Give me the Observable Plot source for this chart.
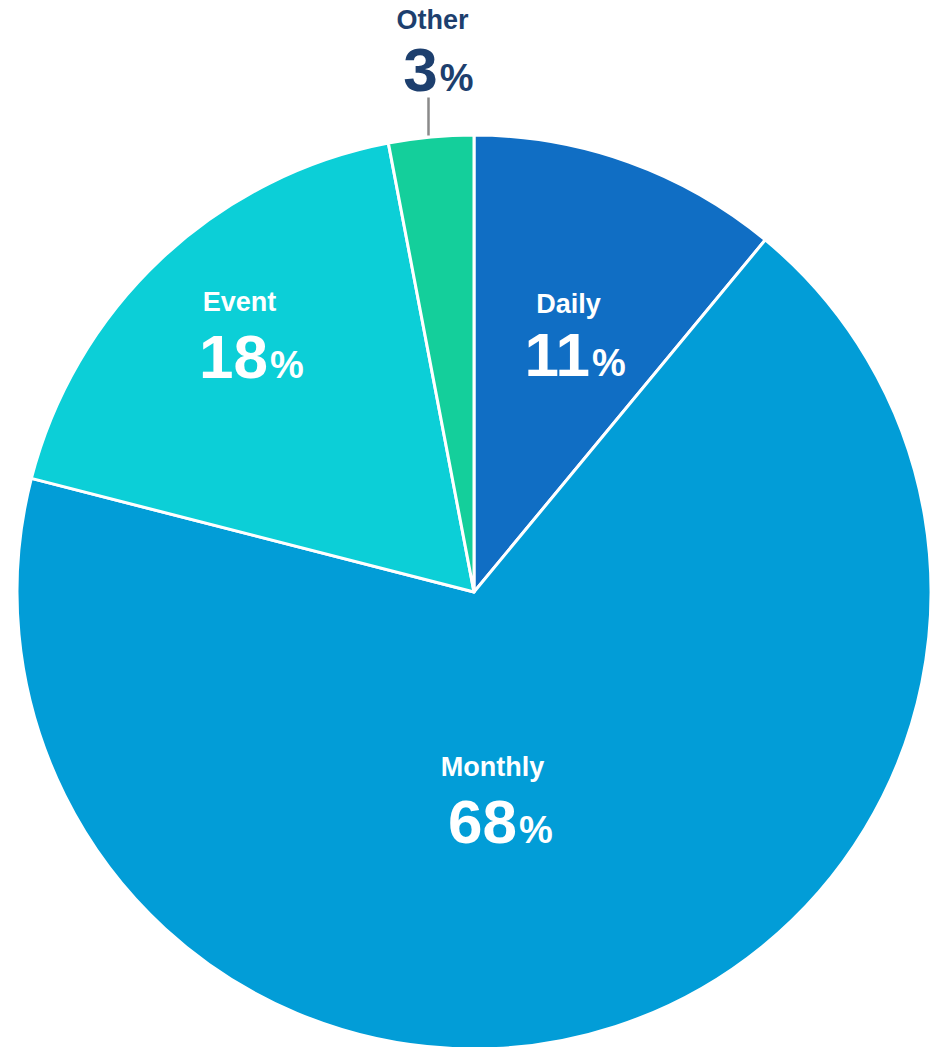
<!DOCTYPE html>
<html>
<head>
<meta charset="utf-8">
<script src="https://cdn.jsdelivr.net/npm/d3@7"></script>
<script src="https://cdn.jsdelivr.net/npm/@observablehq/plot@0.6"></script>
<style>
  html, body { margin: 0; padding: 0; background: #fff; }
  #chart { width: 939px; height: 1047px; }
</style>
</head>
<body>
<div id="chart"></div>
<script>
// ---- data ----
const categories = ["Daily", "Monthly", "Event", "Other"];
const shares = [11, 68, 18, 3];
const colors = ["#106ec4", "#029dd7", "#0ccfd7", "#14cf9b"];

// ---- layout (pixel-like data units, center of pie at 0,0) ----
const W = 939, H = 1047;
const CX = 474, CY = 592;        // pie center in pixels
const R = 457;                   // pie radius in data units
// label anchors relative to the pie centre (x right, y up)
const labelLayout = [
  {label: [94, 280], num: [98, 217]},    // Daily
  {label: [18, -183], num: [25, -250]},  // Monthly
  {label: [-235, 282], num: [-224, 215]},// Event
  {label: [-42, 564], num: [-37, 502]}   // Other
];
const textColors = ["#ffffff", "#ffffff", "#ffffff", "#1d3f6e"];
const LABEL_FS = 27, NUM_FS = 62, PCT_FS = 38;

const pieGen = d3.pie().sort(null).value(d => d.value);
const slices = pieGen(categories.map((c, i) => ({name: c, value: shares[i], color: colors[i]})));

const labelRows = slices.map((s, i) => {
  const numStr = String(shares[i]);
  const numW = numStr.length * 0.556 * NUM_FS;
  const pctW = 0.889 * PCT_FS;
  const split = labelLayout[i].num[0] - (numW + pctW) / 2 + numW;
  return {
    name: s.data.name,
    num: numStr,
    lx: labelLayout[i].label[0], ly: labelLayout[i].label[1],
    nx: split, ny: labelLayout[i].num[1],
    color: textColors[i]
  };
});

const pieMark = (index, scales, values, dimensions) => {
  const x0 = scales.x(0), y0 = scales.y(0);
  const r = scales.x(R) - scales.x(0);
  const arc = d3.arc().innerRadius(0).outerRadius(r);
  const g = d3.create("svg:g").attr("transform", `translate(${x0},${y0})`);
  g.selectAll("path").data(slices).join("path")
    .attr("d", arc)
    .attr("fill", d => d.data.color)
    .attr("stroke", "#ffffff")
    .attr("stroke-width", 3)
    .attr("stroke-linejoin", "round");
  return g.node();
};

const chart = Plot.plot({
  width: W, height: H,
  margin: 0,
  x: {domain: [-CX, W - CX], axis: null},
  y: {domain: [CY - H, CY], axis: null},
  style: {fontFamily: "Arial, 'Liberation Sans', sans-serif", background: "#fff"},
  marks: [
    pieMark,
    Plot.link([{x1: -46, y1: 592 - 97, x2: -46, y2: 592 - 135}], {
      x1: "x1", y1: "y1", x2: "x2", y2: "y2", stroke: "#8a8a8a", strokeWidth: 2.5
    }),
    Plot.text(labelRows, {
      x: "lx", y: "ly", text: "name", fill: "color",
      fontSize: LABEL_FS, fontWeight: "bold", lineAnchor: "bottom", textAnchor: "middle"
    }),
    Plot.text(labelRows, {
      x: "nx", y: "ny", text: "num", fill: "color",
      fontSize: NUM_FS, fontWeight: "bold", lineAnchor: "bottom", textAnchor: "end"
    }),
    Plot.text(labelRows, {
      x: "nx", y: "ny", text: () => "%", fill: "color",
      fontSize: PCT_FS, fontWeight: "bold", lineAnchor: "bottom", textAnchor: "start", dx: 2
    })
  ]
});
document.getElementById("chart").appendChild(chart);
</script>
</body>
</html>
